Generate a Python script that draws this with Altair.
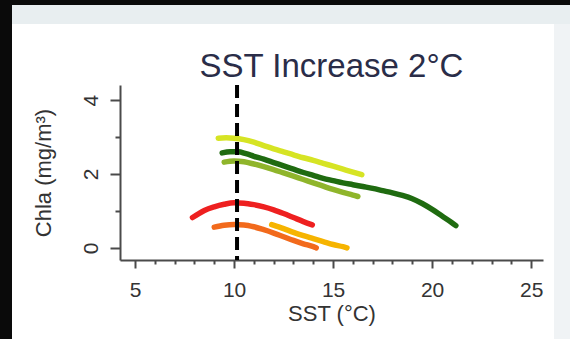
import altair as alt
import pandas as pd

# ---------------- data ----------------
title_text = "SST Increase 2°C"
x_title = "SST (°C)"
y_title = "Chla (mg/m³)"

x_ticks = list(range(5, 26))
y_ticks = [0, 1, 2, 3, 4]
ref_sst = [10.15]

series_names = ["Yellow-green", "Medium green", "Dark green", "Red", "Orange", "Yellow-orange"]
series_colors = ["#d6e424", "#8fb52b", "#1f6b10", "#ee2020", "#f26a1c", "#f6b400"]

yg_x = [9.2, 9.6, 10.0, 10.5, 11.0, 11.5, 12.0, 12.5, 13.0, 13.5, 14.0, 14.5, 15.0, 15.5, 16.0, 16.45]
yg_y = [2.97, 2.98, 2.97, 2.93, 2.86, 2.77, 2.68, 2.60, 2.52, 2.44, 2.37, 2.29, 2.21, 2.13, 2.05, 1.98]

mg_x = [9.5, 10.0, 10.5, 11.0, 11.5, 12.0, 12.5, 13.0, 13.5, 14.0, 14.5, 15.0, 15.5, 16.0, 16.25]
mg_y = [2.32, 2.35, 2.33, 2.27, 2.20, 2.12, 2.03, 1.94, 1.85, 1.76, 1.67, 1.58, 1.50, 1.43, 1.39]

dg_x = [9.4, 9.8, 10.2, 10.6, 11.0, 11.5, 12.0, 12.5, 13.0, 13.5, 14.0, 14.5, 15.0, 15.5,
        16.0, 16.5, 17.0, 17.5, 18.0, 18.5, 19.0, 19.5, 20.0, 20.5, 21.0, 21.2]
dg_y = [2.57, 2.60, 2.60, 2.55, 2.48, 2.40, 2.31, 2.22, 2.13, 2.04, 1.96, 1.88, 1.82, 1.76,
        1.71, 1.66, 1.61, 1.55, 1.49, 1.42, 1.33, 1.20, 1.04, 0.86, 0.68, 0.60]

rd_x = [7.9, 8.2, 8.5, 9.0, 9.5, 10.0, 10.5, 11.0, 11.5, 12.0, 12.5, 13.0, 13.5, 13.95]
rd_y = [0.82, 0.92, 1.01, 1.11, 1.18, 1.22, 1.21, 1.17, 1.11, 1.03, 0.93, 0.82, 0.71, 0.62]

or_x = [9.0, 9.5, 10.0, 10.5, 11.0, 11.5, 12.0, 12.5, 13.0, 13.5, 14.0, 14.15]
or_y = [0.56, 0.61, 0.63, 0.62, 0.57, 0.49, 0.40, 0.30, 0.20, 0.11, 0.03, 0.00]

yo_x = [11.9, 12.5, 13.0, 13.5, 14.0, 14.5, 15.0, 15.5, 15.7]
yo_y = [0.63, 0.52, 0.42, 0.33, 0.25, 0.17, 0.09, 0.03, 0.00]

all_x = [yg_x, mg_x, dg_x, rd_x, or_x, yo_x]
all_y = [yg_y, mg_y, dg_y, rd_y, or_y, yo_y]

rows = []
for name, xs, ys in zip(series_names, all_x, all_y):
    for i, (a, b) in enumerate(zip(xs, ys)):
        rows.append({"series": name, "sst": a, "chla": b, "order": i})
df = pd.DataFrame(rows)

# ---------------- layout ----------------
W, H = 423, 175
PAD = {"left": 120, "top": 85, "right": 27, "bottom": 79}
FONT = "Liberation Sans"
AXIS_COL = "#4a4a4a"
TEXT_COL = "#333333"

x_scale = alt.Scale(domain=[4.24, 25.6], nice=False, zero=False)
y_scale = alt.Scale(domain=[-0.33, 4.41], nice=False, zero=False)

x_axis = alt.Axis(
    values=x_ticks,
    labelExpr="datum.value % 5 === 0 ? datum.label : ''",
    tickSize=8,
    tickDash={"condition": {"test": "datum.value % 5 === 0", "value": [20, 0]}, "value": [4, 10]},
    grid=False, title=x_title,
    labelFont=FONT, titleFont=FONT, labelFontSize=21, titleFontSize=22,
    titleFontWeight="normal", labelColor=TEXT_COL, titleColor=TEXT_COL,
    domainColor=AXIS_COL, tickColor=AXIS_COL, domainWidth=2, tickWidth=2,
    labelPadding=11, titlePadding=3, labelOverlap=False, labelFlush=False,
)
y_axis = alt.Axis(
    values=y_ticks,
    labelExpr="datum.value % 2 === 0 ? datum.label : ''",
    tickSize=10,
    tickDash={"condition": {"test": "datum.value % 2 === 0", "value": [20, 0]}, "value": [5, 10]},
    labelAngle=270,
    grid=False, title=y_title,
    labelFont=FONT, titleFont=FONT, labelFontSize=21, titleFontSize=22,
    titleFontWeight="normal", labelColor=TEXT_COL, titleColor=TEXT_COL,
    domainColor=AXIS_COL, tickColor=AXIS_COL, domainWidth=2, tickWidth=2,
    labelPadding=9, titlePadding=25, labelOverlap=False, labelFlush=False,
)

one = pd.DataFrame({"k": [0]})

def deco(color, x0, x1, y0, y1):
    return alt.Chart(one).mark_rect(color=color).encode(
        x=alt.value(x0), x2=alt.value(x1), y=alt.value(y0), y2=alt.value(y1)
    )

frame = (
    deco("#e8eef0", -108, 450, -80, -61)
    + deco("#f0f3f5", 434, 450, -61, 254)
    + deco("#0a0a0a", -120, -108, -85, 254)
    + deco("#0a0a0a", -120, 450, -85, -80)
)

title = alt.Chart(pd.DataFrame({"t": [title_text]})).mark_text(
    font=FONT, fontSize=33, color="#2a2d48", align="center", baseline="alphabetic"
).encode(text="t:N", x=alt.value(W / 2), y=alt.value(-8))

lines = alt.Chart(df).mark_line(strokeWidth=5.5, strokeCap="round", strokeJoin="round",
                                interpolate="monotone").encode(
    x=alt.X("sst:Q", scale=x_scale, axis=x_axis),
    y=alt.Y("chla:Q", scale=y_scale, axis=y_axis),
    color=alt.Color("series:N", scale=alt.Scale(domain=series_names, range=series_colors), legend=None),
    order="order:Q",
)

ref = alt.Chart(pd.DataFrame({"sst": ref_sst})).mark_rule(
    color="black", strokeWidth=4, strokeDash=[13, 6]
).encode(x=alt.X("sst:Q", scale=x_scale, axis=x_axis))

chart = (frame + title + lines + ref).properties(
    width=W, height=H, padding=PAD,
    autosize=alt.AutoSizeParams(type="none"),
    background="white",
).configure_view(stroke=None).configure_axis(labelOverlap=False)

chart.save("out.html", embed_options={"renderer": "svg", "actions": False})
